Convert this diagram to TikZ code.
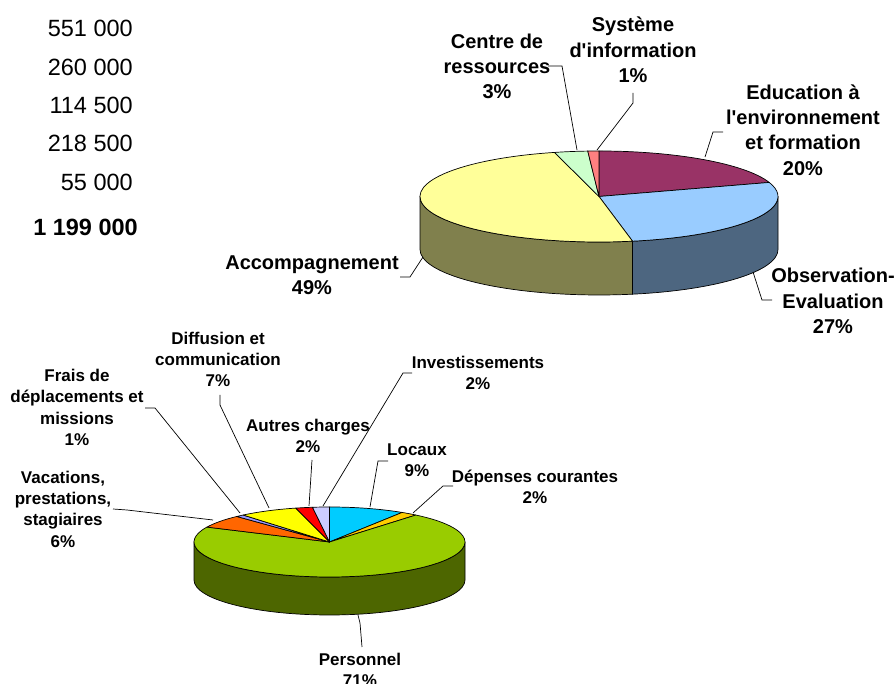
\documentclass[tikz,border=0pt]{standalone}
\usepackage{fontspec}
\setmainfont{Liberation Sans}[Ligatures=TeXOff]
\usetikzlibrary{calc}
\definecolor{edu}{HTML}{993366}
\definecolor{obs}{HTML}{99CCFF}
\definecolor{obsside}{HTML}{4D6680}
\definecolor{acc}{HTML}{FFFF99}
\definecolor{accside}{HTML}{80804D}
\definecolor{cdr}{HTML}{CCFFCC}
\definecolor{sys}{HTML}{FF8080}
\definecolor{loc}{HTML}{00CCFF}
\definecolor{dep}{HTML}{FFCC00}
\definecolor{pers}{HTML}{99CC00}
\definecolor{persside}{HTML}{4D6600}
\definecolor{vac}{HTML}{FF6600}
\definecolor{frais}{HTML}{9999FF}
\definecolor{diff}{HTML}{FFFF00}
\definecolor{autr}{HTML}{FF0000}
\definecolor{inv}{HTML}{CCCCFF}
% #1 centre, #2 rx, #3 ry, #4 start, #5 end, #6 colour
\newcommand{\pietopslice}[6]{%
  \filldraw[piepart,fill=#6] (#1) -- ++(#4:#2pt and #3pt)
    arc[start angle=#4,end angle=#5,x radius=#2pt,y radius=#3pt] -- cycle;}
% #1 centre, #2 rx, #3 ry, #4 depth, #5 start, #6 end, #7 colour
\newcommand{\piesidepart}[7]{%
  \filldraw[piepart,fill=#7] (#1) ++(#5:#2pt and #3pt)
    arc[start angle=#5,end angle=#6,x radius=#2pt,y radius=#3pt]
    -- ++(0pt,-#4pt)
    arc[start angle=#6,end angle=#5,x radius=#2pt,y radius=#3pt] -- cycle;}
\tikzset{
  piepart/.style={draw=black,line width=0.7pt,line join=round},
  toplbl/.style={font=\fontsize{20}{25.3}\selectfont\bfseries,align=center,inner sep=0pt},
  botlbl/.style={font=\fontsize{17}{21.3}\selectfont\bfseries,align=center,inner sep=0pt},
  numlbl/.style={font=\fontsize{23.5}{28}\selectfont,anchor=east,inner sep=0pt},
  leader/.style={draw=black,line width=0.7pt},
}
\begin{document}
\begin{tikzpicture}[x=1pt,y=1pt]
\useasboundingbox (0,0) rectangle (896,684);
\clip (0,0) rectangle (896,684);
\fill[white] (0,0) rectangle (896,684);

% ---------- numbers ----------
\node[numlbl] (n1) at (133,656) {551 000};
\node[numlbl] (n2) at (133,617) {260 000};
\node[numlbl] (n3) at (133,579) {114 500};
\node[numlbl] (n4) at (133,541) {218 500};
\node[numlbl] (n5) at (133,502) {55 000};
\node[numlbl,font=\fontsize{23.5}{28}\selectfont\bfseries] (n6) at (138,457) {1 199 000};

% ---------- top pie ----------
\coordinate (C1) at (599,487.5);
\piesidepart{C1}{179}{45.5}{53}{180}{280.8}{accside}
\piesidepart{C1}{179}{45.5}{53}{280.8}{360}{obsside}
\pietopslice{C1}{179}{45.5}{90}{18}{edu}
\pietopslice{C1}{179}{45.5}{18}{-79.2}{obs}
\pietopslice{C1}{179}{45.5}{-79.2}{-255.6}{acc}
\pietopslice{C1}{179}{45.5}{104.4}{93.6}{cdr}
\pietopslice{C1}{179}{45.5}{93.6}{90}{sys}

\node[toplbl] (lcdr) at (497,617.5) {Centre de\\ressources\\3\%};
\node[toplbl] (lsys) at (633,634) {Système\\d'information\\1\%};
\node[toplbl] (ledu) at (803,554) {Education à\\l'environnement\\et formation\\20\%};
\node[toplbl] (lobs) at (833,383) {Observation-\\Evaluation\\27\%};
\node[toplbl] (lacc) at (312,408.5) {Accompagnement\\49\%};

\coordinate (pcdr0) at (548,618); \coordinate (pcdr1) at (562,618); \coordinate (pcdr) at (577,534);
\coordinate (psys0) at (633,591); \coordinate (psys1) at (633,581); \coordinate (psys) at (597,534);
\coordinate (pedu0) at (723,552); \coordinate (pedu1) at (713,552); \coordinate (pedu) at (705,527);
\coordinate (pobs0) at (772,384); \coordinate (pobs1) at (762,384); \coordinate (pobs) at (753,412);
\coordinate (pacc0) at (400,407); \coordinate (pacc1) at (410,407); \coordinate (pacc) at (423,427);
\draw[leader] (pcdr0) -- (pcdr1) -- (pcdr);
\draw[leader] (psys0) -- (psys1) -- (psys);
\draw[leader] (pedu0) -- (pedu1) -- (pedu);
\draw[leader] (pobs0) -- (pobs1) -- (pobs);
\draw[leader] (pacc0) -- (pacc1) -- (pacc);

% ---------- bottom pie ----------
\coordinate (C2) at (329.5,142);
\piesidepart{C2}{135.5}{35}{38}{180}{360}{persside}
\pietopslice{C2}{135.5}{35}{90}{57.6}{loc}
\pietopslice{C2}{135.5}{35}{57.6}{50.4}{dep}
\pietopslice{C2}{135.5}{35}{50.4}{-205.2}{pers}
\pietopslice{C2}{135.5}{35}{154.8}{133.2}{vac}
\pietopslice{C2}{135.5}{35}{133.2}{129.6}{frais}
\pietopslice{C2}{135.5}{35}{129.6}{104.4}{diff}
\pietopslice{C2}{135.5}{35}{104.4}{97.2}{autr}
\pietopslice{C2}{135.5}{35}{97.2}{90}{inv}

\node[botlbl] (ldiff) at (218,324.5) {Diffusion et\\communication\\7\%};
\node[botlbl] (lfrais) at (77,276.5) {Frais de\\déplacements et\\missions\\1\%};
\node[botlbl] (lvac) at (63,175) {Vacations,\\prestations,\\stagiaires\\6\%};
\node[botlbl] (lautr) at (308,248) {Autres charges\\2\%};
\node[botlbl] (linv) at (478,311) {Investissements\\2\%};
\node[botlbl] (lloc) at (417,224) {Locaux\\9\%};
\node[botlbl] (ldep) at (535,197) {Dépenses courantes\\2\%};
\node[botlbl] (lpers) at (360,14) {Personnel\\71\%};

\coordinate (qfrais0) at (145,276); \coordinate (qfrais1) at (155,276); \coordinate (qfrais) at (240,171);
\coordinate (qdiff0) at (220,289); \coordinate (qdiff1) at (220,279); \coordinate (qdiff) at (269,176);
\coordinate (qautr0) at (312,224); \coordinate (qautr) at (309,178);
\coordinate (qinv0) at (412,311); \coordinate (qinv1) at (403,311); \coordinate (qinv) at (323,178);
\coordinate (qloc0) at (388,223); \coordinate (qloc1) at (378,223); \coordinate (qloc) at (370,177);
\coordinate (qdep0) at (453,198); \coordinate (qdep1) at (443,198); \coordinate (qdep) at (413,171);
\coordinate (qvac0) at (113,175); \coordinate (qvac1) at (127,174); \coordinate (qvac) at (213,164);
\coordinate (qpers0) at (362,37); \coordinate (qpers1) at (360,61); \coordinate (qpers) at (358,69);
\draw[leader] (qfrais0) -- (qfrais1) -- (qfrais);
\draw[leader] (qdiff0) -- (qdiff1) -- (qdiff);
\draw[leader] (qautr0) -- (qautr);
\draw[leader] (qinv0) -- (qinv1) -- (qinv);
\draw[leader] (qloc0) -- (qloc1) -- (qloc);
\draw[leader] (qdep0) -- (qdep1) -- (qdep);
\draw[leader] (qvac0) -- (qvac1) -- (qvac);
\draw[leader] (qpers0) -- (qpers1) -- (qpers);
\end{tikzpicture}
\end{document}
